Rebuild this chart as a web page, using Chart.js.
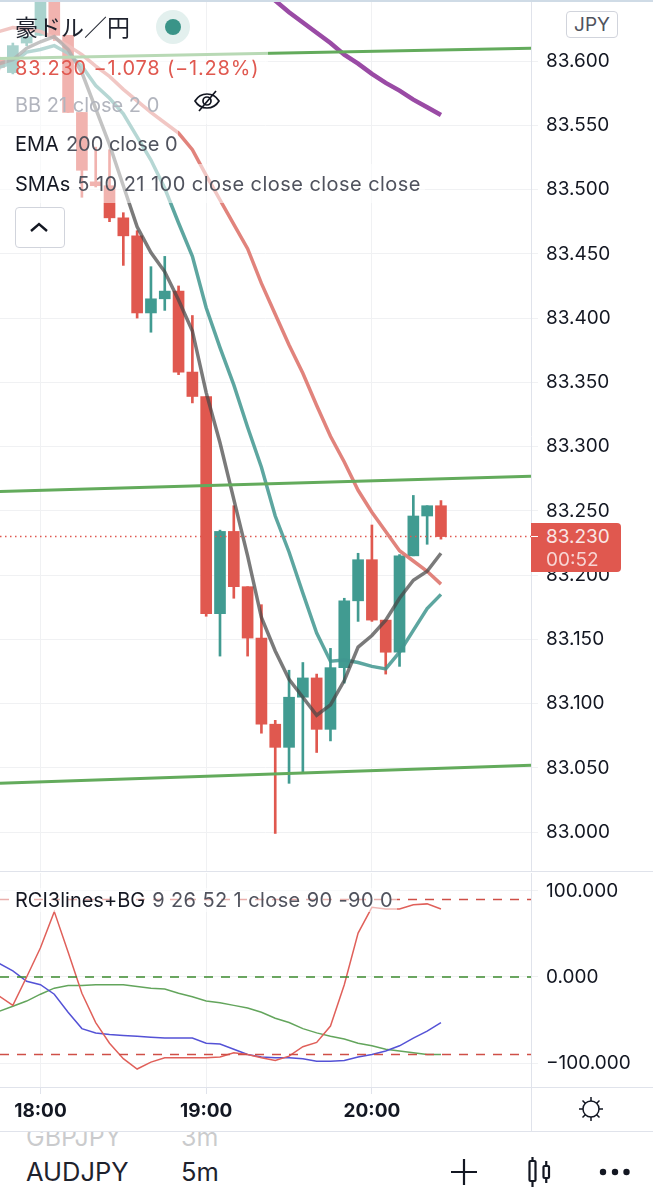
<!DOCTYPE html>
<html>
<head>
<meta charset="utf-8">
<title>AUDJPY 5m</title>
<script src="https://cdn.jsdelivr.net/npm/chart.js@4/dist/chart.umd.min.js"></script>
<style>
html, body { margin: 0; padding: 0; background: #fff; }
body { position: relative; width: 653px; height: 1200px; overflow: hidden; font-family: Inter, "Noto Sans", sans-serif; color: #131722; }
canvas { position: absolute; left: 0; }
#mainChart { top: 0; }
#rciChart { top: 873px; }
.abs { position: absolute; }
.row { position: absolute; left: 0; background: rgba(255,255,255,.55); white-space: nowrap; font-size: 20px; box-sizing: border-box; padding-left: 15px; display: flex; align-items: center; }
.row span { color: #50535e; margin-left: 7px; }
.hline { position: absolute; left: 0; width: 653px; height: 1px; background: #e0e3eb; }
</style>
</head>
<body>
<canvas id="mainChart" width="653" height="872"></canvas>
<canvas id="rciChart" width="653" height="258"></canvas>

<div class="hline" style="top:0;height:2px;background:#cfdbe6"></div>
<div class="hline" style="top:871px"></div>
<div class="hline" style="top:1087px"></div>
<div class="hline" style="top:1131px"></div>
<div class="abs" style="left:531px;top:1087px;width:1px;height:44px;background:#e0e3eb"></div>

<div class="row" style="top:2px;width:190px;height:48px;font-family:'Noto Sans CJK JP';font-size:23px;color:#1e222d">豪ドル／円</div>
<div class="abs" style="left:156px;top:10px;width:34px;height:34px;border-radius:50%;background:#e3f0ee"></div>
<div class="abs" style="left:165px;top:19px;width:16px;height:16px;border-radius:50%;background:#3a9488"></div>
<div class="row" style="top:50px;width:268px;height:36px;color:#e0584f;letter-spacing:.8px">83.230 −1.078 (−1.28%)</div>
<div class="row" style="top:86px;width:226px;height:38px;color:#b2b5be">BB 21 close 2 0</div>
<svg class="abs" style="left:192px;top:88px" width="30" height="26" viewBox="0 0 30 26" fill="none" stroke="#131722" stroke-width="1.7"><path d="M3 13c3-5 7-7 12-7s9 2 12 7c-3 5-7 7-12 7s-9-2-12-7z"/><circle cx="15" cy="13" r="4"/><path d="M7 23L24 3"/></svg>
<div class="row" style="top:124px;width:178px;height:40px">EMA<span>200 close 0</span></div>
<div class="row" style="top:164px;width:425px;height:39px">SMAs<span style="letter-spacing:.45px">5 10 21 100 close close close close</span></div>
<div class="abs" style="left:15px;top:207px;width:48px;height:39px;border:1px solid #d1d4dc;border-radius:4px;background:#fff"></div>
<svg class="abs" style="left:29px;top:220px" width="20" height="14" viewBox="0 0 20 14" fill="none" stroke="#131722" stroke-width="2.4"><path d="M2 11l8-7 8 7"/></svg>

<div class="abs" style="left:566px;top:11px;width:52px;height:27px;box-sizing:border-box;border:1px solid #d1d4dc;border-radius:4px;background:#fff;font-size:19px;line-height:25px;text-align:center;color:#50535e">JPY</div>

<div class="row" style="top:888px;width:397px;height:24px">RCI3lines+BG<span style="letter-spacing:.4px">9 26 52 1 close 90 -90 0</span></div>

<div class="abs" style="left:531px;top:523px;width:90px;height:49px;background:#e0584f;border-radius:0 4px 4px 0"></div>
<div class="abs" style="left:531px;top:536px;width:7px;height:1px;background:#fff"></div>
<div class="abs" id="badgePrice" style="left:546px;top:526px;font-size:19px;line-height:22px;color:#fff;opacity:.85">83.230</div>
<div class="abs" id="badgeTime" style="left:546px;top:549px;font-size:19px;line-height:22px;color:#fff;opacity:.75">00:52</div>

<svg class="abs" style="left:578px;top:1096px" width="26" height="26" viewBox="0 0 26 26" fill="none" stroke="#131722" stroke-width="1.5"><circle cx="13" cy="13" r="8"/><path d="M13 1v4M13 21v4M1 13h4M21 13h4M4.5 4.5l3 3M18.5 18.5l3 3M4.5 21.5l3-3M18.5 7.5l3-3"/></svg>

<div class="abs" style="left:0;top:1132px;width:300px;height:15px;overflow:hidden;opacity:.22;font-size:25px">
  <div class="abs" style="left:26px;top:-10px">GBPJPY</div>
  <div class="abs" style="left:181px;top:-10px">3m</div>
</div>
<div class="abs" style="left:26px;top:1157px;font-size:25.5px;line-height:30px;color:#1e222d">AUDJPY</div>
<div class="abs" style="left:181px;top:1157px;font-size:25.5px;line-height:30px;color:#1e222d">5m</div>

<svg class="abs" style="left:448px;top:1156px" width="32" height="32" viewBox="0 0 32 32" stroke="#131722" stroke-width="2.2"><path d="M16 3v26M3 16h26"/></svg>
<svg class="abs" style="left:525px;top:1154px" width="30" height="36" viewBox="0 0 30 36" fill="none" stroke="#131722" stroke-width="2.2"><rect x="4.500" y="7" width="6" height="20" rx="1"/><path d="M7.500 3v4M7.500 27v6"/><rect x="18.500" y="12" width="5.500" height="12" rx="1"/><path d="M21.250 7v5M21.250 24v5"/></svg>
<svg class="abs" style="left:598px;top:1166px" width="34" height="12" viewBox="0 0 34 12" fill="#131722"><circle cx="5" cy="6" r="3.200"/><circle cx="17" cy="6" r="3.200"/><circle cx="28.500" cy="6" r="3.200"/></svg>

<script>
// candle index, 0 is the 18:00 bar, one step is 5 minutes
const barIdx = [-3,-2,-1,0,1,2,3,4,5,6,7,8,9,10,11,12,13,14,15,16,17,18,19,20,21,22,23,24,25,26,27,28,29];

const opens  = [83.601,83.591,83.614,83.620,83.649,83.620,83.560,83.506,83.503,83.478,83.464,83.404,83.415,83.421,83.358,83.339,83.170,83.234,83.191,83.151,83.084,83.066,83.105,83.120,83.080,83.128,83.180,83.212,83.165,83.140,83.215,83.246,83.254];
const highs  = [83.603,83.614,83.619,83.649,83.649,83.620,83.560,83.533,83.531,83.482,83.468,83.440,83.448,83.425,83.402,83.339,83.235,83.254,83.191,83.177,83.087,83.126,83.132,83.123,83.143,83.182,83.217,83.239,83.165,83.216,83.262,83.254,83.258];
const lows   = [83.593,83.590,83.612,83.620,83.616,83.560,83.494,83.502,83.475,83.441,83.400,83.389,83.406,83.356,83.334,83.168,83.137,83.182,83.137,83.077,82.999,83.038,83.046,83.062,83.071,83.116,83.164,83.164,83.123,83.129,83.215,83.224,83.228];
const closes = [83.595,83.612,83.619,83.649,83.620,83.560,83.515,83.503,83.478,83.464,83.404,83.415,83.421,83.358,83.339,83.170,83.234,83.191,83.151,83.084,83.066,83.105,83.120,83.080,83.128,83.180,83.212,83.165,83.140,83.215,83.246,83.254,83.230];

const sma5  = [83.598,83.601,83.610,83.615,83.619,83.609,83.591,83.563,83.535,83.503,83.471,83.451,83.436,83.414,83.390,83.342,83.303,83.259,83.215,83.167,83.141,83.119,83.105,83.091,83.099,83.118,83.144,83.153,83.165,83.182,83.196,83.203,83.217];
const sma10 = [83.595,83.599,83.607,83.609,83.612,83.606,83.596,83.581,83.571,83.559,83.541,83.523,83.501,83.474,83.448,83.408,83.377,83.348,83.315,83.284,83.246,83.218,83.186,83.155,83.133,83.134,83.132,83.129,83.127,83.140,83.157,83.174,83.185];
const sma21 = [83.623,83.626,83.625,83.623,83.618,83.612,83.605,83.596,83.588,83.578,83.569,83.560,83.552,83.544,83.531,83.511,83.492,83.473,83.454,83.427,83.403,83.379,83.357,83.332,83.308,83.288,83.266,83.249,83.234,83.219,83.211,83.203,83.193];

const sma100Idx = [16,17,18,19,20,21,22,23,24,25,26,27,28,29];
const sma100 = [83.657,83.647,83.638,83.630,83.622,83.614,83.605,83.598,83.590,83.583,83.577,83.570,83.564,83.558];

// hand drawn trend lines, left and right edge of the pane
const edgeIdx = [-2.93,35.52];
const trendTop = [83.602,83.610];
const trendMid = [83.265,83.277];
const trendLow = [83.038,83.052];
const lastPrice = [83.230,83.230];

const rciFast = [-22,-33,0,34,76,29,-19,-53,-77,-95,-107,-99,-94,-94,-94,-94,-93,-88,-90,-94,-97,-92,-81,-76,-57,-9,51,81,79,79,84,85,79];
const rciMid  = [16,7,-5,-9,-20,-41,-60,-65,-67,-68,-69,-70,-71,-71,-71,-77,-78,-84,-90,-93,-94,-94,-95,-98,-98,-97,-93,-90,-86,-80,-71,-63,-53];
const rciSlow = [-40,-34,-28,-20,-13,-10,-10,-9,-9,-9,-11,-13,-14,-19,-23,-28,-30,-33,-36,-41,-48,-53,-60,-65,-69,-72,-77,-80,-84,-86,-88,-90,-90];
const rciUpper = [90,90];
const rciZero = [0,0];
const rciLower = [-90,-90];

const priceTicks = [83.0,83.05,83.1,83.15,83.2,83.25,83.3,83.35,83.4,83.45,83.5,83.55,83.6];
const rciTicks = [-100,0,100];
const timeTicks = [0,12,24];
const timeLabels = ['18:00','19:00','20:00'];

const RED = '#e0584f';
const TEAL = '#419b91';
const GRID = '#f0f1f3';
const TEXT = '#131722';
const FONT = 'Inter, "Noto Sans", sans-serif';
const barColors = opens.map((o, i) => closes[i] >= o ? TEAL : RED);

function pts(xs, ys) {
    return xs.map((x, i) => ({ x: x, y: ys[i] }));
}

function lineSet(xs, ys, color, width, dash) {
    return {
        type: 'line',
        data: pts(xs, ys),
        borderColor: color,
        borderWidth: width,
        borderDash: dash || [],
        pointRadius: 0,
        tension: 0,
        fill: false,
        order: 1
    };
}

// the scale reserves room for half a label at each end, the panes here run edge to edge
function noPadding(s) {
    s.paddingTop = 0;
    s.paddingBottom = 0;
    s.paddingLeft = 0;
    s.paddingRight = 0;
}

function xScale(showLabels) {
    return {
        type: 'linear',
        offset: false,
        min: edgeIdx[0],
        max: edgeIdx[1],
        afterBuildTicks: s => { s.ticks = timeTicks.map(v => ({ value: v })); },
        afterFit: s => { s.height = showLabels ? 44 : 0; noPadding(s); },
        border: { display: false },
        grid: { offset: false, color: GRID, lineWidth: 1, drawTicks: showLabels, tickLength: 7, tickColor: '#e0e3eb' },
        ticks: {
            display: showLabels,
            autoSkip: false,
            maxRotation: 0,
            padding: 6,
            color: TEXT,
            font: { family: FONT, size: 19, weight: 'bold' },
            callback: v => timeLabels[timeTicks.indexOf(v)]
        }
    };
}

function yScale(min, max, ticks, fmt) {
    return {
        position: 'right',
        min: min,
        max: max,
        afterBuildTicks: s => { s.ticks = ticks.map(v => ({ value: v })); },
        afterFit: s => { s.width = 122; noPadding(s); },
        border: { color: '#e0e3eb' },
        grid: { color: GRID, lineWidth: 1, tickLength: 7 },
        ticks: {
            padding: 8,
            crossAlign: 'near',
            color: TEXT,
            font: { family: FONT, size: 19 },
            callback: fmt
        }
    };
}

const sharedOpts = {
    responsive: false,
    animation: false,
    layout: { padding: 0 },
    plugins: { legend: { display: false }, tooltip: { enabled: false }, title: { display: false } }
};

new Chart(document.getElementById('mainChart').getContext('2d'), {
    data: {
        datasets: [
            lineSet(edgeIdx, trendTop, '#63ab5c', 3),
            lineSet(edgeIdx, trendMid, '#63ab5c', 3),
            lineSet(edgeIdx, trendLow, '#63ab5c', 3),
            lineSet(edgeIdx, lastPrice, RED, 1.5, [1.5, 3.5]),
            lineSet(barIdx, sma5, 'rgba(70,70,70,.72)', 3.5),
            lineSet(barIdx, sma10, 'rgba(65,150,143,.85)', 3.5),
            lineSet(barIdx, sma21, 'rgba(222,118,110,.9)', 3.5),
            lineSet(sma100Idx, sma100, '#9a4ba5', 4.5),
            {
                type: 'bar',
                data: barIdx.map((x, i) => ({ x: x, y: [opens[i], closes[i]] })),
                backgroundColor: barColors,
                barThickness: 11,
                grouped: false,
                order: 2
            },
            {
                type: 'bar',
                data: barIdx.map((x, i) => ({ x: x, y: [lows[i], highs[i]] })),
                backgroundColor: barColors,
                barThickness: 2,
                grouped: false,
                order: 3
            }
        ]
    },
    options: Object.assign({}, sharedOpts, {
        scales: {
            x: xScale(false),
            y: yScale(82.969, 83.6475, priceTicks, v => v.toFixed(3))
        }
    })
});

new Chart(document.getElementById('rciChart').getContext('2d'), {
    data: {
        datasets: [
            lineSet(edgeIdx, rciUpper, '#cf4f47', 1.5, [9, 8]),
            lineSet(edgeIdx, rciZero, '#3d8b2f', 1.5, [9, 8]),
            lineSet(edgeIdx, rciLower, '#cf4f47', 1.5, [9, 8]),
            lineSet(barIdx, rciFast, '#e0605a', 1.5),
            lineSet(barIdx, rciMid, '#5452d6', 1.5),
            lineSet(barIdx, rciSlow, '#63a55c', 1.5)
        ]
    },
    options: Object.assign({}, sharedOpts, {
        scales: {
            x: xScale(true),
            y: yScale(-127.9, 120.9, rciTicks, v => v.toFixed(3).replace('-', '−'))
        }
    })
});
</script>
</body>
</html>
